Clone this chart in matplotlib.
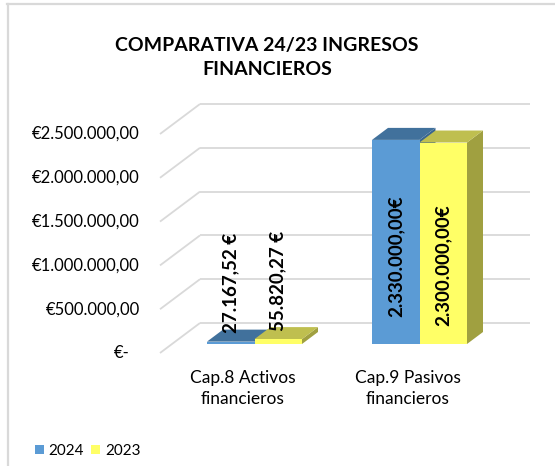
import matplotlib
matplotlib.use("Agg")
import matplotlib.pyplot as plt
from matplotlib.patches import Polygon
from matplotlib.lines import Line2D

# ---------------- data ----------------
categories = ["Cap.8 Activos\nfinancieros", "Cap.9 Pasivos\nfinancieros"]
series_names = ["2024", "2023"]
values_2024 = [27167.52, 2330000.00]
values_2023 = [55820.27, 2300000.00]
labels_2024 = ["27.167,52 €", "2.330.000,00€"]
labels_2023 = ["55.820,27 €", "2.300.000,00€"]
tick_values = [0, 500000, 1000000, 1500000, 2000000, 2500000]
tick_labels = ["€-", "€500.000,00", "€1.000.000,00", "€1.500.000,00",
               "€2.000.000,00", "€2.500.000,00"]
title = "COMPARATIVA 24/23 INGRESOS\nFINANCIEROS"

# ---------------- style / geometry ----------------
W, H = 555, 466
FONT = ["Lato", "DejaVu Sans"]
plt.rcParams['font.family'] = FONT

PX_CAT = 165.0          # pixels per category along the floor
PX_M = 87.6             # pixels per 1,000,000
X0 = 160.0              # front-left corner of the floor (px)
Y0 = 353.0              # front baseline (px from top)

DX = 40.0 / PX_CAT                 # wall depth (x, category units)
DY = 30.0 / PX_M * 1e6             # wall depth (y, value units)
D0, D1 = 0.30, 0.70                # bar depth range as fraction of wall depth
BW = 47.5 / PX_CAT                 # bar width

grid_c = "#D9D9D9"
front_cols = ["#5B9BD5", "#FFFF66"]
top_cols = ["#41719C", "#BFBF4F"]
side_cols = ["#3A6590", "#A0A040"]

fig = plt.figure(figsize=(W / 100, H / 100), dpi=100)
ax = fig.add_axes([0, 0, 1, 1])
ax.set_xlim(-X0 / PX_CAT, (W - X0) / PX_CAT)
ax.set_ylim((Y0 - H) / PX_M * 1e6, Y0 / PX_M * 1e6)
ax.axis("off")

# chart border (top and left only visible)
fig.add_artist(Line2D([7 / W, 1], [1 - 4 / H, 1 - 4 / H], color=grid_c, lw=1.6,
                      transform=fig.transFigure))
fig.add_artist(Line2D([7.5 / W, 7.5 / W], [0, 1 - 4 / H], color=grid_c, lw=1.6,
                      transform=fig.transFigure))

n = len(categories)
# gridlines: side wall diagonals + back wall horizontals
for v, lab in zip(tick_values, tick_labels):
    ax.plot([0, DX], [v, v + DY], color=grid_c, lw=1.3, zorder=1,
            solid_capstyle="butt")
    ax.plot([DX, DX + n], [v + DY, v + DY], color=grid_c, lw=1.3, zorder=1,
            solid_capstyle="butt")
    xoff = -20 if v != 0 else -30
    ax.annotate(lab, (0, v), xytext=(xoff * 0.72, 0), textcoords="offset points",
                ha="right", va="center", fontsize=12, color="#000000")

# bars
series = [values_2024, values_2023]
labels = [labels_2024, labels_2023]
centers = [i + 0.5 for i in range(n)]
z = 2
for i, c in enumerate(centers):
    for s, vals in enumerate(series):
        v = vals[i]
        x_left = c - BW + s * BW + D0 * DX
        base = D0 * DY
        ddx = (D1 - D0) * DX
        ddy = (D1 - D0) * DY
        side = Polygon([(x_left + BW, base), (x_left + BW + ddx, base + ddy),
                        (x_left + BW + ddx, base + v + ddy), (x_left + BW, base + v)],
                       closed=True, facecolor=side_cols[s], edgecolor="none", zorder=z)
        top = Polygon([(x_left, base + v), (x_left + BW, base + v),
                       (x_left + BW + ddx, base + v + ddy), (x_left + ddx, base + v + ddy)],
                      closed=True, facecolor=top_cols[s], edgecolor="none", zorder=z)
        ax.add_patch(side)
        ax.add_patch(top)
        ax.bar(x_left, v, width=BW, bottom=base, align="edge",
               color=front_cols[s], edgecolor="none", zorder=z + 0.5,
               label=series_names[s] if i == 0 else None)
        # data labels
        xc = x_left + BW / 2
        if v > 1e6:
            ax.text(xc, base + v * (0.43 if s == 0 else 0.39), labels[s][i],
                    rotation=90, ha="center", va="center", fontsize=13.5,
                    fontweight="bold", zorder=20)
        else:
            ax.annotate(labels[s][i], (xc, base + v), xytext=(0, 6),
                        textcoords="offset points", rotation=90, ha="center",
                        va="bottom", fontsize=13.5, fontweight="bold", zorder=20)
        z += 1

# category labels
for c, lab in zip(centers, categories):
    ax.annotate(lab, (c, 0), xytext=(0, -12), textcoords="offset points",
                ha="center", va="top", fontsize=12.5, linespacing=1.4)

# title
fig.text(267 / W, 1 - 57.5 / H, title, ha="center", va="center", fontsize=14,
         fontweight="bold", linespacing=1.45)

# legend
leg = fig.legend(loc="center left", bbox_to_anchor=(35 / W, 1 - 451 / H), ncol=2,
                 frameon=False, fontsize=11, handlelength=0.6, handleheight=0.6,
                 handletextpad=0.3, columnspacing=0.45, borderaxespad=0, borderpad=0)

fig.savefig("out.png", dpi=100)
